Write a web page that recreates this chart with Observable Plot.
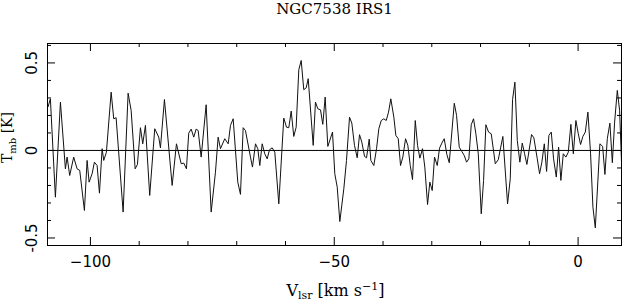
<!DOCTYPE html>
<html>
<head>
<meta charset="utf-8">
<script src="https://cdn.jsdelivr.net/npm/d3@7"></script>
<script src="https://cdn.jsdelivr.net/npm/@observablehq/plot@0.6"></script>
<style>
  html, body { margin: 0; padding: 0; background: #fff; }
  #chart svg { display: block; }
</style>
</head>
<body>
<div id="chart"></div>
<script>
// ---- Data ----
const title = "NGC7538 IRS1";
const velocity = [
  -108.68, -108.21, -107.18, -106.15, -105.13, -104.78, -104.25, -103.43, -102.73, -102.19,
  -101.23, -100.68, -100.27, -99.65, -99.18, -98.63, -98.15, -97.60, -97.27, -96.72,
  -95.75, -95.22, -94.73, -93.29, -92.27, -91.65, -90.83, -90.36, -89.74, -89.27,
  -88.72, -87.84, -86.81, -85.99, -85.64, -84.82, -83.24, -82.36, -81.39, -80.86,
  -80.31, -79.84, -79.34, -78.81, -78.32, -77.91, -77.29, -76.27, -75.24, -74.36,
  -73.81, -73.33, -72.45, -71.75, -71.28, -70.73, -69.78, -69.23, -68.68, -68.21,
  -67.18, -66.77, -66.15, -65.68, -65.27, -64.78, -64.25, -63.75, -63.28, -62.73,
  -62.19, -61.37, -60.35, -59.79, -59.32, -58.83, -58.30, -57.81, -57.27, -56.78,
  -56.25, -55.75, -55.34, -54.32, -53.85, -53.37, -52.82, -52.35, -51.86, -51.32,
  -50.36, -49.89, -49.39, -48.86, -48.04, -47.49, -46.87, -46.40, -45.85, -45.29,
  -44.82, -44.35, -43.79, -43.38, -42.83, -42.50, -41.89, -41.33, -40.86, -40.37,
  -39.84, -39.34, -38.87, -38.40, -37.78, -37.37, -36.88, -36.41, -35.94, -35.38,
  -34.91, -34.42, -33.95, -33.39, -32.92, -32.45, -31.90, -31.43, -30.87, -30.40,
  -29.91, -29.44, -28.88, -28.41, -27.94, -27.45, -26.91, -26.42, -25.39, -24.92,
  -24.37, -23.84, -23.34, -22.87, -22.40, -21.91, -21.44, -20.96, -20.47, -19.86,
  -19.38, -18.91, -18.36, -17.81, -16.98, -16.37, -15.43, -14.46, -13.91, -13.44,
  -12.96, -12.47, -11.94, -11.45, -10.97, -10.50, -9.54, -9.07, -8.37, -7.90,
  -7.43, -6.93, -6.46, -5.99, -5.50, -5.03, -4.47, -4.00, -3.53, -3.04,
  -2.50, -2.01, -1.48, -0.98, -0.45, 0.04, 0.51, 0.98, 1.48, 2.01,
  2.56, 3.04, 3.53, 4.47, 5.03, 5.50, 5.99, 6.52, 7.02, 7.49,
  8.04, 8.51, 8.98
];
const tmb = [
  0.250, 0.295, -0.267, 0.276, -0.105, -0.038, -0.143, -0.038, -0.105, -0.114,
  -0.343, -0.057, -0.181, -0.133, -0.067, -0.086, -0.244, 0.010, -0.057, -0.010,
  0.333, 0.181, 0.187, -0.352, 0.327, 0.229, -0.105, -0.080, 0.130, 0.038,
  0.143, -0.257, 0.124, 0.076, 0.015, 0.291, -0.200, 0.038, -0.076, -0.072,
  -0.105, 0.099, 0.122, 0.076, 0.122, 0.114, -0.038, 0.261, -0.352, -0.124,
  0.076, 0.010, 0.067, 0.038, 0.143, 0.181, -0.181, -0.251, 0.130, 0.114,
  -0.038, -0.095, 0.038, 0.010, -0.086, 0.038, -0.019, -0.048, 0.004, 0.015,
  -0.010, -0.305, 0.185, 0.133, 0.130, 0.225, 0.080, 0.133, 0.461, 0.514,
  0.347, 0.358, 0.410, 0.029, 0.276, 0.238, 0.232, 0.149, 0.305, 0.023,
  0.105, -0.133, -0.210, -0.406, -0.219, -0.057, 0.190, 0.156, 0.029, -0.042,
  0.090, 0.048, -0.034, -0.042, 0.065, -0.057, -0.086, 0.010, 0.124, 0.171,
  0.181, 0.171, 0.219, 0.295, 0.190, 0.086, 0.067, -0.086, -0.038, 0.067,
  0.029, -0.086, -0.166, 0.171, 0.029, -0.044, 0.010, -0.095, -0.309, -0.181,
  -0.229, -0.038, -0.086, 0.013, 0.042, 0.067, -0.023, -0.070, 0.270, 0.200,
  0.019, -0.006, -0.029, -0.067, -0.048, 0.147, 0.181, 0.095, -0.019, -0.362,
  -0.171, 0.147, 0.105, 0.095, -0.076, -0.053, 0.080, -0.305, -0.162, 0.290,
  0.390, 0.057, -0.067, 0.042, -0.019, -0.080, 0.091, 0.072, -0.048, -0.133,
  -0.067, 0.038, -0.120, 0.086, 0.105, -0.048, -0.152, 0.019, -0.171, -0.019,
  -0.038, -0.010, 0.149, -0.019, 0.171, 0.095, 0.034, 0.080, 0.105, 0.219,
  -0.019, -0.324, -0.442, 0.038, 0.023, -0.137, 0.067, 0.156, -0.070, 0.162,
  0.343, 0.229, -0.124
];
const xMajorTicks = [-100, -50, 0];
const xMinorTicks = [-90, -80, -70, -60, -40, -30, -20, -10];
const yMajorTicks = [-0.5, 0, 0.5];
const yMinorTicks = [-0.4, -0.3, -0.2, -0.1, 0.1, 0.2, 0.3, 0.4, 0.6];
const xDomain = [-108.8, 8.9];
const yDomain = [-0.543, 0.611];

// ---- Layout ----
const W = 623, H = 302;
const mL = 47, mR = 2, mT = 43, mB = 57;
const iW = W - mL - mR, iH = H - mT - mB;
const majorLen = 8, minorLen = 4;

const spectrum = velocity.map((v, i) => ({v, t: tmb[i]}));

const serif = "DejaVu Serif";
const sans = "DejaVu Sans";

const plot = Plot.plot({
  width: W,
  height: H,
  marginLeft: mL,
  marginRight: mR,
  marginTop: mT,
  marginBottom: mB,
  x: {domain: xDomain, axis: null},
  y: {domain: yDomain, axis: null},
  style: {background: "white", color: "black"},
  marks: [
    Plot.ruleY([0], {stroke: "black", strokeWidth: 1}),
    Plot.line(spectrum, {x: "v", y: "t", stroke: "#111", strokeWidth: 1, clip: true}),
    // inward ticks, bottom & top
    Plot.ruleX(xMajorTicks, {insetTop: iH - majorLen, stroke: "black"}),
    Plot.ruleX(xMinorTicks, {insetTop: iH - minorLen, stroke: "black"}),
    Plot.ruleX(xMajorTicks, {insetBottom: iH - majorLen, stroke: "black"}),
    Plot.ruleX(xMinorTicks, {insetBottom: iH - minorLen, stroke: "black"}),
    // inward ticks, left & right
    Plot.ruleY(yMajorTicks, {insetRight: iW - majorLen, stroke: "black"}),
    Plot.ruleY(yMinorTicks, {insetRight: iW - minorLen, stroke: "black"}),
    Plot.ruleY(yMajorTicks, {insetLeft: iW - majorLen, stroke: "black"}),
    Plot.ruleY(yMinorTicks, {insetLeft: iW - minorLen, stroke: "black"}),
    Plot.frame({stroke: "black", strokeWidth: 1}),
    // tick labels
    Plot.axisX(xMajorTicks, {
      anchor: "bottom", tickSize: 0, tickPadding: 10.5, label: null,
      tickFormat: d => d < 0 ? "\u2212" + Math.abs(d) : String(d),
      fontSize: 15, fontFamily: sans, fill: "black"
    }),
    Plot.axisY(yMajorTicks, {
      anchor: "left", tickSize: 0, tickPadding: 11, tickRotate: -90, label: null,
      tickFormat: d => d < 0 ? "-" + Math.abs(d) : String(d),
      fontSize: 15, fontFamily: sans, fill: "black"
    }),
    // title
    Plot.text([title], {
      frameAnchor: "top", dy: -30, lineAnchor: "bottom",
      fontSize: 15, fontFamily: serif, fill: "black"
    })
  ]
});

document.getElementById("chart").appendChild(plot);

// ---- Axis labels with sub/superscripts ----
const svg = d3.select(plot);
const xl = svg.append("text")
  .attr("x", mL + iW / 2 + 1.5)
  .attr("y", 295.5)
  .attr("text-anchor", "middle")
  .attr("font-family", serif)
  .attr("font-size", 16)
  .attr("fill", "black");
xl.append("tspan").text("V");
xl.append("tspan").attr("font-size", 11).attr("dy", 3.5).text("lsr");
xl.append("tspan").attr("dy", -3.5).text(" [km s");
xl.append("tspan").attr("font-size", 11).attr("dy", -6).text("\u22121");
xl.append("tspan").attr("dy", 6).text("]");

const yl = svg.append("text")
  .attr("transform", "translate(12,137.5) rotate(-90)")
  .attr("text-anchor", "middle")
  .attr("font-family", serif)
  .attr("font-size", 14)
  .attr("fill", "black");
yl.append("tspan").text("T");
yl.append("tspan").attr("font-size", 10).attr("dy", 3.5).text("mb");
yl.append("tspan").attr("dy", -3.5).text(" [K]");
</script>
</body>
</html>
